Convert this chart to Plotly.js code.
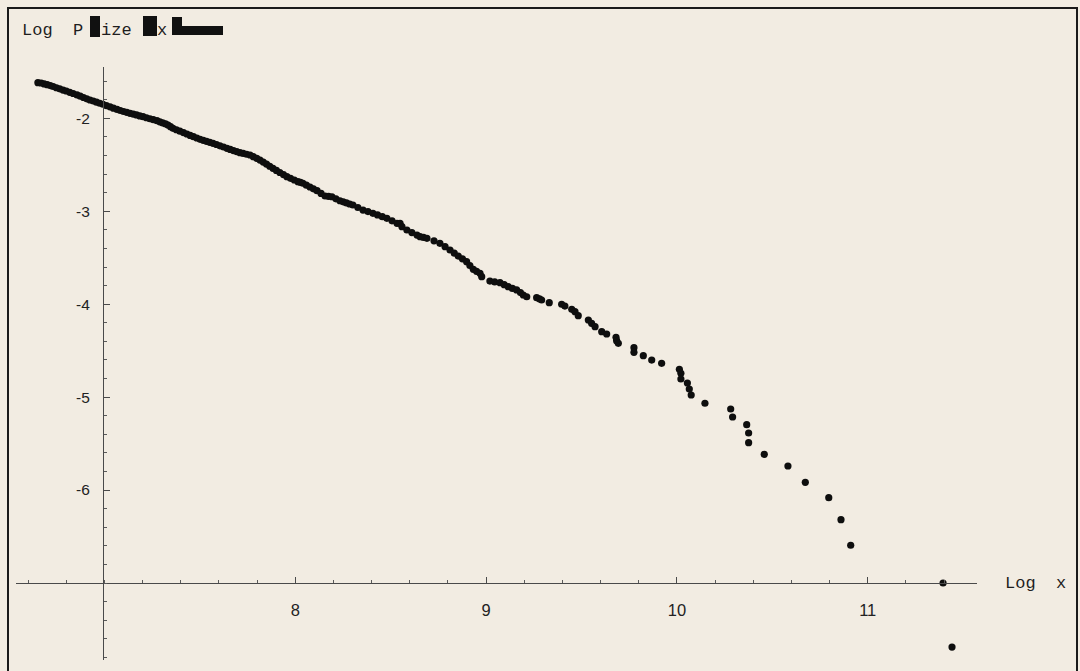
<!DOCTYPE html>
<html>
<head>
<meta charset="utf-8">
<script src="https://cdn.plot.ly/plotly-3.0.1.min.js"></script>
<style>
html,body{margin:0;padding:0;background:#f2ece2;}
#chart{width:1080px;height:671px;}
</style>
</head>
<body>
<div id="chart"></div>
<script>
// Log x values of each point
const logX = [
 6.651,6.668,6.684,6.700,6.716,6.731,6.748,6.765,6.783,6.800,6.818,6.836,6.856,6.873,6.890,6.907,6.924,6.941,6.958,6.975,
 6.992,7.010,7.029,7.047,7.066,7.083,7.100,7.117,7.134,7.151,7.168,7.185,7.202,7.220,7.238,7.256,7.275,7.290,7.305,7.320,
 7.333,7.346,7.359,7.377,7.395,7.414,7.432,7.449,7.466,7.484,7.501,7.518,7.535,7.552,7.569,7.587,7.605,7.624,7.642,7.659,
 7.676,7.693,7.710,7.727,7.745,7.763,7.780,7.798,7.815,7.832,7.849,7.866,7.883,7.901,7.919,7.938,7.956,7.975,7.995,8.014,
 8.027,8.040,8.058,8.077,8.095,8.114,8.135,8.156,8.174,8.192,8.213,8.234,8.251,8.268,8.285,8.302,8.328,8.355,8.381,8.407,
 8.431,8.456,8.480,8.507,8.533,8.549,8.559,8.585,8.611,8.638,8.654,8.672,8.690,8.727,8.758,8.785,8.811,8.833,8.854,8.876,
 8.898,8.915,8.933,8.950,8.968,8.977,9.020,9.045,9.073,9.095,9.116,9.138,9.160,9.180,9.195,9.213,9.265,9.280,9.291,9.331,
 9.396,9.413,9.449,9.466,9.483,9.536,9.553,9.571,9.606,9.632,9.681,9.684,9.693,9.775,9.775,9.824,9.868,9.920,10.013,10.021,
 10.021,10.055,10.065,10.075,10.147,10.282,10.292,10.366,10.376,10.376,10.458,10.582,10.673,10.796,10.860,10.911,11.395,11.442
];
// Log P[size > x] values of each point
const logP = [
 -1.617,-1.620,-1.630,-1.638,-1.648,-1.658,-1.671,-1.683,-1.696,-1.706,-1.720,-1.733,-1.749,-1.762,-1.776,-1.790,-1.803,-1.814,-1.826,-1.838,
 -1.849,-1.863,-1.877,-1.891,-1.905,-1.916,-1.927,-1.936,-1.946,-1.955,-1.964,-1.974,-1.983,-1.994,-2.005,-2.015,-2.026,-2.038,-2.050,-2.061,
 -2.072,-2.090,-2.108,-2.123,-2.139,-2.154,-2.169,-2.184,-2.198,-2.212,-2.226,-2.237,-2.248,-2.258,-2.269,-2.282,-2.296,-2.309,-2.323,-2.335,
 -2.347,-2.358,-2.370,-2.378,-2.387,-2.395,-2.413,-2.431,-2.449,-2.471,-2.493,-2.516,-2.538,-2.561,-2.583,-2.606,-2.628,-2.646,-2.664,-2.682,
 -2.690,-2.699,-2.719,-2.739,-2.759,-2.779,-2.808,-2.836,-2.840,-2.844,-2.866,-2.887,-2.899,-2.910,-2.922,-2.933,-2.960,-2.987,-3.004,-3.022,
 -3.040,-3.058,-3.076,-3.103,-3.130,-3.130,-3.166,-3.202,-3.229,-3.256,-3.274,-3.282,-3.291,-3.318,-3.345,-3.381,-3.417,-3.450,-3.482,-3.512,
 -3.543,-3.584,-3.625,-3.646,-3.668,-3.704,-3.751,-3.760,-3.769,-3.790,-3.812,-3.830,-3.847,-3.875,-3.901,-3.920,-3.930,-3.943,-3.955,-3.984,
 -4.001,-4.020,-4.055,-4.081,-4.124,-4.170,-4.206,-4.242,-4.296,-4.321,-4.356,-4.393,-4.421,-4.468,-4.518,-4.554,-4.601,-4.636,-4.701,-4.744,
 -4.805,-4.848,-4.913,-4.977,-5.066,-5.128,-5.214,-5.297,-5.386,-5.490,-5.615,-5.741,-5.917,-6.082,-6.319,-6.594,-7.000,-7.689
];
const xTickVals = [8, 9, 10, 11];
const yTickVals = [-2, -3, -4, -5, -6];
const xAxisLabel = "Log  x";
const yAxisLabelParts = ["Log  P", "ize", "x"];

const W = 1080, H = 671;
const px = v => v / W;
const py = v => 1 - v / H;

const trace = {
  x: logX, y: logP, type: 'scatter', mode: 'markers',
  marker: {size: 7.2, color: '#0e0e0e'},
  cliponaxis: false, hoverinfo: 'skip'
};

const axisCommon = {
  showgrid: false, zeroline: false, showline: true,
  linecolor: '#4a4a4a', linewidth: 1,
  ticks: 'inside', ticklen: 6, tickwidth: 1, tickcolor: '#4a4a4a',
  tickfont: {family: 'Liberation Sans, Arial, sans-serif', size: 16.5, color: '#222'},
  tickmode: 'array', fixedrange: true
};

const layout = {
  width: W, height: H,
  margin: {l: 0, r: 0, t: 0, b: 0},
  paper_bgcolor: '#f2ece2', plot_bgcolor: 'rgba(0,0,0,0)',
  showlegend: false,
  xaxis: Object.assign({}, axisCommon, {
    domain: [px(16), px(977)], range: [6.5362, 11.5729],
    anchor: 'free', position: py(583), side: 'bottom',
    tickvals: xTickVals, ticktext: xTickVals.map(String),
    ticklabelstandoff: 12,
    minor: {tickmode: 'linear', tick0: 0, dtick: 0.2, ticks: 'inside', ticklen: 3, tickcolor: '#5a5a5a', showgrid: false}
  }),
  yaxis: Object.assign({}, axisCommon, {
    domain: [py(660), py(67)], range: [-7.8285, -1.4480],
    anchor: 'free', position: px(103), side: 'left',
    tickvals: yTickVals, ticktext: yTickVals.map(String),
    ticklabelstandoff: 10,
    tickfont: {family: 'Liberation Sans, Arial, sans-serif', size: 15.5, color: '#222'},
    minor: {tickmode: 'linear', tick0: 0, dtick: 0.2, ticks: 'inside', ticklen: 3, tickcolor: '#5a5a5a', showgrid: false}
  }),
  shapes: [
    {type: 'rect', xref: 'paper', yref: 'paper', x0: px(8), x1: px(1077), y0: py(675), y1: py(8),
     line: {color: '#1a1a1a', width: 2}, fillcolor: 'rgba(0,0,0,0)', layer: 'below'},
    {type: 'rect', xref: 'paper', yref: 'paper', x0: px(90), x1: px(100), y0: py(37), y1: py(16),
     line: {width: 0}, fillcolor: '#111', layer: 'above'},
    {type: 'rect', xref: 'paper', yref: 'paper', x0: px(143), x1: px(157), y0: py(36), y1: py(16),
     line: {width: 0}, fillcolor: '#111', layer: 'above'},
    {type: 'rect', xref: 'paper', yref: 'paper', x0: px(172), x1: px(182), y0: py(35), y1: py(17),
     line: {width: 0}, fillcolor: '#111', layer: 'above'},
    {type: 'rect', xref: 'paper', yref: 'paper', x0: px(182), x1: px(223), y0: py(35), y1: py(26),
     line: {width: 0}, fillcolor: '#111', layer: 'above'}
  ],
  annotations: [
    {text: yAxisLabelParts[0], xref: 'paper', yref: 'paper', x: px(20), y: py(30), xanchor: 'left', yanchor: 'middle',
     showarrow: false, font: {family: 'Liberation Mono, Courier New, monospace', size: 17, color: '#1e1e1e'}},
    {text: yAxisLabelParts[1], xref: 'paper', yref: 'paper', x: px(99), y: py(30), xanchor: 'left', yanchor: 'middle',
     showarrow: false, font: {family: 'Liberation Mono, Courier New, monospace', size: 17, color: '#1e1e1e'}},
    {text: yAxisLabelParts[2], xref: 'paper', yref: 'paper', x: px(155), y: py(30), xanchor: 'left', yanchor: 'middle',
     showarrow: false, font: {family: 'Liberation Mono, Courier New, monospace', size: 17, color: '#1e1e1e'}},
    {text: xAxisLabel, xref: 'paper', yref: 'paper', x: px(1003), y: py(583), xanchor: 'left', yanchor: 'middle',
     showarrow: false, font: {family: 'Liberation Mono, Courier New, monospace', size: 17, color: '#1e1e1e'}}
  ]
};

Plotly.newPlot('chart', [trace], layout, {staticPlot: true, displayModeBar: false});
</script>
</body>
</html>
